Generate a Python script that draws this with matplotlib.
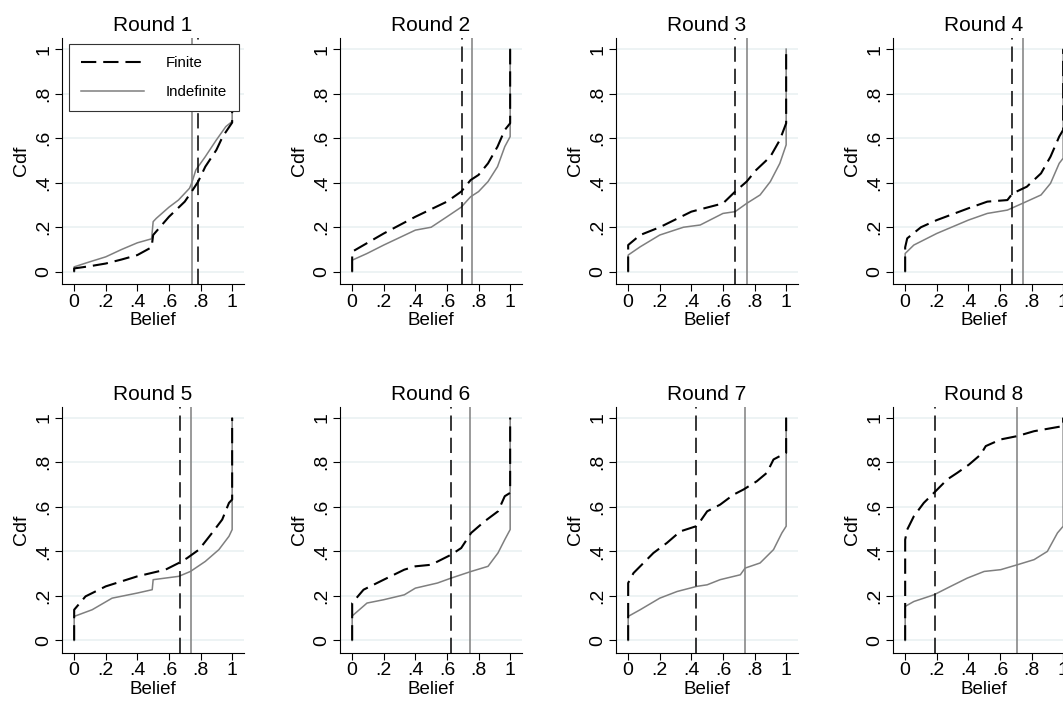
import matplotlib
matplotlib.use("Agg")
import matplotlib.pyplot as plt

plt.rcParams['font.family'] = ['Liberation Sans', 'DejaVu Sans']
plt.rcParams['lines.scale_dashes'] = False

r1_fin_x = [0, 0, 0.1, 0.2, 0.3, 0.4, 0.49, 0.5, 0.6, 0.7, 0.75, 0.785, 0.83, 0.9, 0.94, 1, 1]
r1_fin_y = [0, 0.015, 0.025, 0.037, 0.055, 0.075, 0.11, 0.165, 0.247, 0.315, 0.367, 0.405, 0.472, 0.547, 0.607, 0.67, 1]
r1_ind_x = [0, 0, 0.1, 0.2, 0.3, 0.4, 0.49, 0.5, 0.52, 0.6, 0.66, 0.73, 0.745, 0.77, 0.83, 0.9, 0.96, 1, 1]
r1_ind_y = [0, 0.022, 0.045, 0.067, 0.1, 0.13, 0.148, 0.225, 0.24, 0.29, 0.322, 0.375, 0.4, 0.457, 0.517, 0.592, 0.652, 0.675, 1]

r2_fin_x = [0, 0, 0.2, 0.4, 0.6, 0.69, 0.75, 0.8, 0.86, 0.92, 0.966, 1, 1]
r2_fin_y = [0, 0.09, 0.172, 0.247, 0.315, 0.36, 0.412, 0.435, 0.487, 0.562, 0.637, 0.667, 1]
r2_ind_x = [0, 0, 0.094, 0.2, 0.4, 0.5, 0.6, 0.69, 0.75, 0.8, 0.86, 0.92, 0.966, 1, 1]
r2_ind_y = [0, 0.052, 0.082, 0.12, 0.187, 0.2, 0.247, 0.29, 0.337, 0.36, 0.405, 0.472, 0.562, 0.607, 1]

r3_fin_x = [0, 0, 0.076, 0.2, 0.4, 0.6, 0.677, 0.75, 0.81, 0.9, 0.96, 1, 1]
r3_fin_y = [0, 0.12, 0.165, 0.2, 0.27, 0.307, 0.36, 0.405, 0.457, 0.517, 0.592, 0.667, 1]
r3_ind_x = [0, 0, 0.076, 0.2, 0.35, 0.456, 0.6, 0.677, 0.75, 0.835, 0.9, 0.96, 1, 1]
r3_ind_y = [0, 0.075, 0.112, 0.165, 0.2, 0.21, 0.262, 0.27, 0.307, 0.345, 0.405, 0.487, 0.57, 1]

r4_fin_x = [0, 0, 0.013, 0.1, 0.2, 0.4, 0.52, 0.647, 0.68, 0.77, 0.86, 0.92, 0.975, 1, 1]
r4_fin_y = [0, 0.11, 0.15, 0.2, 0.232, 0.285, 0.315, 0.322, 0.352, 0.382, 0.442, 0.517, 0.607, 0.637, 1]
r4_ind_x = [0, 0, 0.055, 0.2, 0.4, 0.52, 0.647, 0.742, 0.86, 0.92, 0.975, 1, 1]
r4_ind_y = [0, 0.082, 0.12, 0.172, 0.232, 0.262, 0.277, 0.307, 0.345, 0.397, 0.487, 0.51, 1]

r5_fin_x = [0, 0, 0.072, 0.2, 0.4, 0.578, 0.662, 0.715, 0.79, 0.873, 0.937, 0.98, 1, 1]
r5_fin_y = [0, 0.138, 0.198, 0.243, 0.288, 0.318, 0.348, 0.37, 0.408, 0.483, 0.543, 0.618, 0.633, 1]
r5_ind_x = [0, 0, 0.114, 0.24, 0.4, 0.494, 0.5, 0.662, 0.736, 0.83, 0.916, 0.98, 1, 1]
r5_ind_y = [0, 0.108, 0.138, 0.19, 0.213, 0.228, 0.273, 0.288, 0.31, 0.355, 0.408, 0.468, 0.498, 1]

r6_fin_x = [0, 0, 0.072, 0.2, 0.33, 0.4, 0.5, 0.626, 0.69, 0.753, 0.838, 0.923, 0.966, 1, 1]
r6_fin_y = [0, 0.168, 0.228, 0.273, 0.318, 0.333, 0.34, 0.385, 0.415, 0.483, 0.535, 0.58, 0.648, 0.663, 1]
r6_ind_x = [0, 0, 0.094, 0.2, 0.33, 0.4, 0.54, 0.626, 0.753, 0.86, 0.923, 0.966, 1, 1]
r6_ind_y = [0, 0.11, 0.168, 0.183, 0.205, 0.235, 0.258, 0.28, 0.31, 0.333, 0.393, 0.453, 0.498, 1]

r7_fin_x = [0, 0, 0.034, 0.076, 0.16, 0.245, 0.33, 0.43, 0.456, 0.5, 0.582, 0.667, 0.73, 0.814, 0.878, 0.92, 1, 1]
r7_fin_y = [0, 0.258, 0.303, 0.333, 0.393, 0.438, 0.49, 0.513, 0.535, 0.58, 0.61, 0.655, 0.678, 0.715, 0.753, 0.813, 0.843, 1]
r7_ind_x = [0, 0, 0.076, 0.2, 0.31, 0.435, 0.5, 0.582, 0.71, 0.74, 0.835, 0.92, 0.973, 1, 1]
r7_ind_y = [0, 0.108, 0.138, 0.19, 0.22, 0.243, 0.25, 0.273, 0.295, 0.325, 0.348, 0.408, 0.483, 0.513, 1]

r8_fin_x = [0, 0, 0.013, 0.055, 0.118, 0.192, 0.266, 0.33, 0.404, 0.478, 0.51, 0.605, 0.71, 0.816, 1, 1]
r8_fin_y = [0, 0.453, 0.498, 0.558, 0.618, 0.67, 0.723, 0.753, 0.79, 0.835, 0.873, 0.903, 0.918, 0.94, 0.963, 1]
r8_ind_x = [0, 0, 0.055, 0.182, 0.288, 0.393, 0.5, 0.605, 0.71, 0.816, 0.9, 0.964, 1, 1]
r8_ind_y = [0, 0.153, 0.175, 0.205, 0.243, 0.28, 0.31, 0.318, 0.34, 0.363, 0.4, 0.483, 0.513, 1]

# mean belief per round (vertical lines)
finite_mean = [0.784, 0.694, 0.677, 0.679, 0.669, 0.626, 0.432, 0.192]
indefinite_mean = [0.744, 0.757, 0.755, 0.744, 0.740, 0.745, 0.738, 0.706]

rounds = [1, 2, 3, 4, 5, 6, 7, 8]
fin_x = [r1_fin_x, r2_fin_x, r3_fin_x, r4_fin_x, r5_fin_x, r6_fin_x, r7_fin_x, r8_fin_x]
fin_y = [r1_fin_y, r2_fin_y, r3_fin_y, r4_fin_y, r5_fin_y, r6_fin_y, r7_fin_y, r8_fin_y]
ind_x = [r1_ind_x, r2_ind_x, r3_ind_x, r4_ind_x, r5_ind_x, r6_ind_x, r7_ind_x, r8_ind_x]
ind_y = [r1_ind_y, r2_ind_y, r3_ind_y, r4_ind_y, r5_ind_y, r6_ind_y, r7_ind_y, r8_ind_y]

ticks = [0, 0.2, 0.4, 0.6, 0.8, 1]
tick_labels = ['0', '.2', '.4', '.6', '.8', '1']

W, H = 1063, 702
fig = plt.figure(figsize=(W / 100, H / 100), dpi=100)

col_left = [62, 340, 616, 893]
row_bottom = [284, 652.7]
ax_w, ax_h = 182, 246

gray = '#7f7f7f'
dash = (0, (11, 5))

for k, rnd in enumerate(rounds):
    r, c = divmod(k, 4)
    ax = fig.add_axes([col_left[c] / W, (H - row_bottom[r]) / H, ax_w / W, ax_h / H])
    ax.set_xlim(-0.077, 1.075)
    ax.set_ylim(-0.055, 1.05)
    for y in ticks:
        ax.axhline(y, color='#e8f0f1', lw=1.1, zorder=0)
    ax.plot(fin_x[k], fin_y[k], color='black', lw=1.5, linestyle=dash, label='Finite', zorder=3)
    ax.plot(ind_x[k], ind_y[k], color=gray, lw=1.1, label='Indefinite', zorder=2)
    ax.axvline(finite_mean[k], color='black', lw=1.1, linestyle=dash, zorder=2)
    ax.axvline(indefinite_mean[k], color=gray, lw=1.1, zorder=2)

    ax.spines['top'].set_visible(False)
    ax.spines['right'].set_visible(False)
    ax.spines['left'].set_linewidth(0.8)
    ax.spines['bottom'].set_linewidth(0.8)
    ax.set_xticks(ticks, tick_labels)
    ax.set_yticks(ticks, tick_labels)
    ax.tick_params(axis='both', length=5, width=0.8, labelsize=14, pad=2)
    for lbl in ax.get_yticklabels():
        lbl.set_rotation(90)
        lbl.set_va('center')
    ax.set_xlabel('Belief', fontsize=13.5, labelpad=1)
    ax.set_ylabel('Cdf', fontsize=14, labelpad=4)
    ax.set_title(f'Round {rnd}', fontsize=15, pad=5)

    if k == 0:
        leg = ax.legend(loc='upper left', bbox_to_anchor=(0.038, 0.976), borderaxespad=0,
                        fontsize=10.8, handlelength=4.2, handletextpad=1.45,
                        borderpad=0.8, labelspacing=1.0, fancybox=False, framealpha=1)
        leg.get_frame().set_edgecolor('#333333')
        leg.get_frame().set_linewidth(0.8)
        leg.set_zorder(5)

fig.savefig('out.png', dpi=100)
